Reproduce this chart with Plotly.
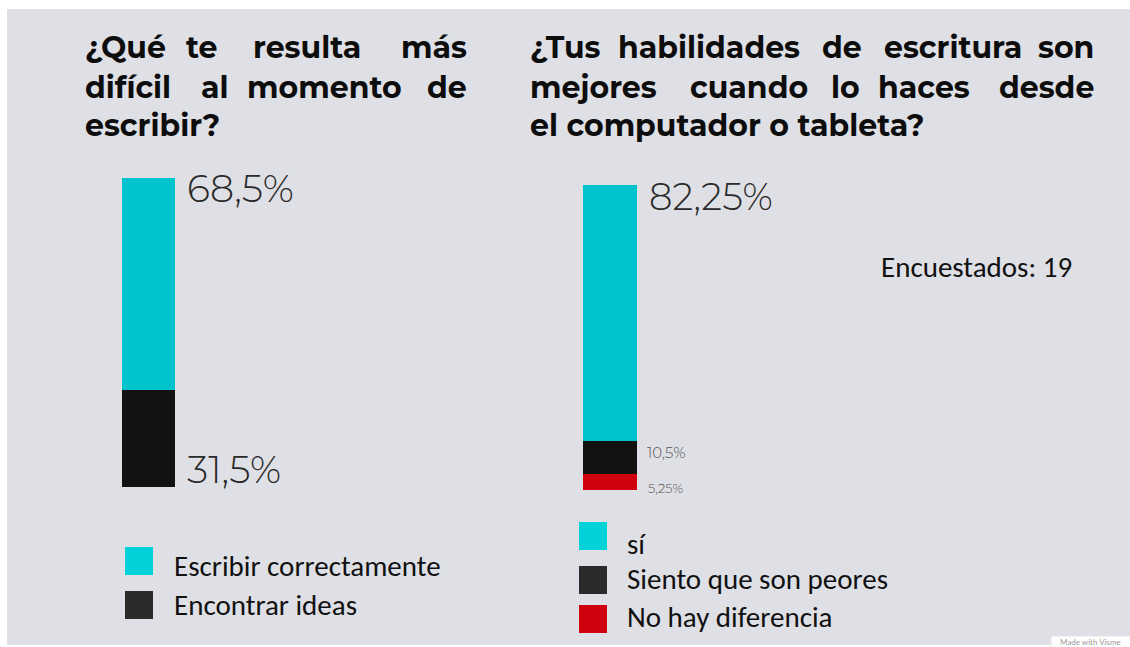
import plotly.graph_objects as go

W, H = 1130, 647

# --- data -------------------------------------------------------------
Q1_TITLE = [["¿Qué", "te", "resulta", "más"],
            ["difícil", "al", "momento", "de"],
            ["escribir?"]]
Q1_CATEGORIES = ["Escribir correctamente", "Encontrar ideas"]
Q1_VALUES = [68.5, 31.5]
Q1_LABELS = ["68,5%", "31,5%"]

Q2_TITLE = [["¿Tus", "habilidades", "de", "escritura", "son"],
            ["mejores", "cuando", "lo", "haces", "desde"],
            ["el computador o tableta?"]]
Q2_CATEGORIES = ["sí", "Siento que son peores", "No hay diferencia"]
Q2_VALUES = [82.25, 10.5, 5.25]
Q2_LABELS = ["82,25%", "10,5%", "5,25%"]

RESPONDENTS = 19

# --- style -------------------------------------------------------------
BG = "#dfe0e5"
BAR_COLORS = ["#00c4cd", "#121212", "#d0000e"]
KEY_COLORS = ["#00d2d8", "#2b2b2b", "#d0000e"]
TITLE_FONT = "Montserrat, 'Open Sans', sans-serif"
NUM_FONT = "Montserrat, Roboto, sans-serif"
KEY_FONT = "Carlito, Lato, sans-serif"


def px(x):
    return x / W


def py(y):
    return 1 - y / H


fig = go.Figure()
annotations = []
shapes = [dict(type="rect", xref="paper", yref="paper", x0=px(7), x1=1.01,
               y0=py(645), y1=py(9), fillcolor=BG, line_width=0, layer="below")]


def justified_title(lines, centers, left, right, base_y):
    # first word flush left, last word flush right, inner words centred -> justified look
    for i, (words, cx) in enumerate(zip(lines, centers)):
        y = py(base_y + i * 39)
        for j, w in enumerate(words):
            if j == 0:
                x, anchor = left, "left"
            elif j == len(words) - 1:
                x, anchor = right, "right"
            else:
                x, anchor = cx[j - 1], "center"
            annotations.append(dict(
                text=w, xref="paper", yref="paper", x=px(x), y=y,
                xanchor=anchor, yanchor="middle", showarrow=False,
                font=dict(family=TITLE_FONT, size=30, color="#0d0d0d", weight="bold")))


justified_title(Q1_TITLE, [[201, 307], [215, 324], []], 83, 469, 48)
justified_title(Q2_TITLE, [[709, 842, 953], [749, 845, 924], []], 528, 1096, 48)


def stacked(values, xa, ya, colors):
    # bottom-up order: last category at the bottom
    for v, c in list(zip(values, colors))[::-1]:
        fig.add_trace(go.Bar(x=[0], y=[v], width=1, marker=dict(color=c, line_width=0),
                             xaxis=xa, yaxis=ya, showlegend=False, hoverinfo="skip"))


stacked(Q1_VALUES, "x", "y", BAR_COLORS)
stacked(Q2_VALUES, "x2", "y2", BAR_COLORS)

# value labels
big = dict(family=NUM_FONT, size=38, color="#2a2a2a", weight=300)
small = dict(family=NUM_FONT, size=15, color="#555555", weight=300)
annotations += [
    dict(text=Q1_LABELS[0], xref="x", yref="y", x=0.5, y=sum(Q1_VALUES), xshift=10,
         xanchor="left", yanchor="top", yshift=15, showarrow=False, font=big),
    dict(text=Q1_LABELS[1], xref="x", yref="y", x=0.5, y=0, xshift=10,
         xanchor="left", yanchor="bottom", yshift=-8, showarrow=False, font=big),
    dict(text=Q2_LABELS[0], xref="x2", yref="y2", x=0.5, y=sum(Q2_VALUES), xshift=10,
         xanchor="left", yanchor="top", yshift=13, showarrow=False, font=dict(big, size=37)),
    dict(text=Q2_LABELS[1], xref="x2", yref="y2", x=0.5,
         y=Q2_VALUES[2] + Q2_VALUES[1] / 2, xshift=8,
         xanchor="left", yanchor="middle", yshift=5, showarrow=False, font=small),
    dict(text=Q2_LABELS[2], xref="x2", yref="y2", x=0.5, y=Q2_VALUES[2] / 2, xshift=9,
         xanchor="left", yanchor="middle", yshift=-6, showarrow=False,
         font=dict(small, size=13)),
]


# manual keys
def key(cats, colors, sq_x, sq_tops, txt_x, txt_y):
    for cat, c, t, ty in zip(cats, colors, sq_tops, txt_y):
        shapes.append(dict(type="rect", xref="paper", yref="paper", x0=px(sq_x),
                           x1=px(sq_x + 28), y0=py(t + 28), y1=py(t), fillcolor=c,
                           line_width=0))
        annotations.append(dict(text=cat, xref="paper", yref="paper", x=px(txt_x),
                                y=py(ty), xanchor="left", yanchor="middle", showarrow=False,
                                font=dict(family=KEY_FONT, size=29, color="#111111")))


key(Q1_CATEGORIES, KEY_COLORS, 125, [547, 591], 172, [566, 605])
key(Q2_CATEGORIES, KEY_COLORS, 579, [522, 566, 605], 625, [544, 579, 617])

annotations.append(dict(text=f"Encuestados: {RESPONDENTS}", xref="paper", yref="paper",
                        x=px(879), y=py(267), xanchor="left", yanchor="middle",
                        showarrow=False, font=dict(family=KEY_FONT, size=29, color="#111111")))

# watermark corner
shapes.append(dict(type="rect", xref="paper", yref="paper", x0=px(1051), x1=1.01,
                   y0=-0.01, y1=py(636), fillcolor="white", line=dict(color="#e6e6e6", width=1)))
annotations.append(dict(text="Made with Visme", xref="paper", yref="paper", x=px(1058),
                        y=py(641.5), xanchor="left", yanchor="middle", showarrow=False,
                        font=dict(family="Lato", size=8, color="#999999")))

axis_off = dict(visible=False, fixedrange=True)
fig.update_layout(
    width=W, height=H, margin=dict(l=0, r=0, t=0, b=0),
    paper_bgcolor="white", plot_bgcolor="rgba(0,0,0,0)",
    barmode="stack", bargap=0,
    xaxis=dict(axis_off, domain=[px(122), px(175)], range=[-0.5, 0.5]),
    yaxis=dict(axis_off, domain=[py(487), py(178)], range=[0, sum(Q1_VALUES)]),
    xaxis2=dict(axis_off, domain=[px(583), px(637)], range=[-0.5, 0.5], anchor="y2"),
    yaxis2=dict(axis_off, domain=[py(490), py(185)], range=[0, sum(Q2_VALUES)], anchor="x2"),
    shapes=shapes, annotations=annotations,
)

fig.write_html("out.html", config={"displayModeBar": False},
               post_script="document.body.style.margin='0';document.body.style.overflow='hidden';")
